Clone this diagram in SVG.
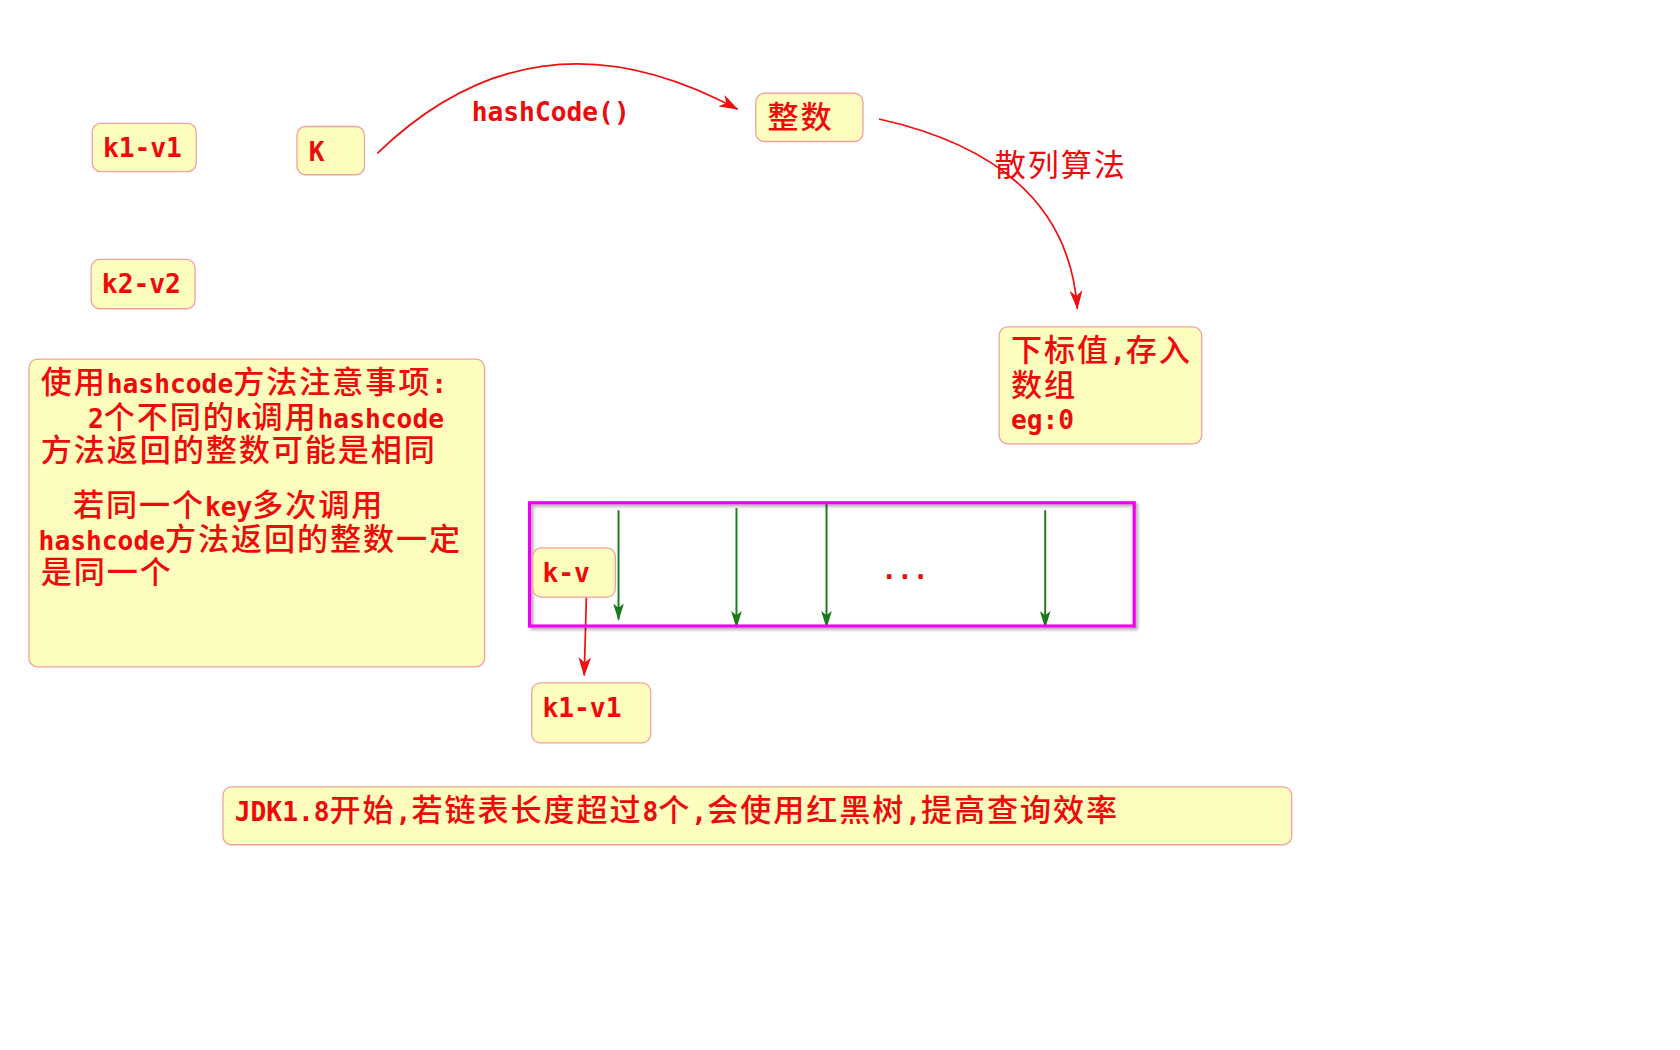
<svg xmlns="http://www.w3.org/2000/svg" width="1680" height="1050" viewBox="0 0 1680 1050">
<style>
.b{fill:#fdfdbd;stroke:#f3a0a0;stroke-width:1.2}
.t{fill:#ee0a0a;font-family:"DejaVu Sans Mono","Noto Sans CJK SC",monospace;font-weight:500;font-size:29px;letter-spacing:1.8px}
.l{font-size:24.5px;font-weight:bold;letter-spacing:0}
.r{fill:none;stroke:#ee1111;stroke-width:1.6}
.g{fill:none;stroke:#1a7a1a;stroke-width:1.8}
</style>
<defs>
<marker id="ar" markerWidth="18" markerHeight="12" refX="17" refY="6" orient="auto" markerUnits="userSpaceOnUse"><path d="M0,0 L18,6 L0,12 L5,6z" fill="#ee1111"/></marker>
<marker id="ag" markerWidth="16" markerHeight="10" refX="15" refY="5" orient="auto" markerUnits="userSpaceOnUse"><path d="M0,0 L16,5 L0,10 L4,5z" fill="#1a7a1a"/></marker>
<filter id="sh"><feDropShadow dx="2" dy="2" stdDeviation="1.5" flood-opacity="0.35"/></filter>
</defs>
<rect width="1680" height="1050" fill="#fff"/>
<g transform="scale(1.072)">
<g id="connectors">
<path class="r" d="M352,143 Q500,0 688,102" marker-end="url(#ar)"/>
<path class="r" d="M820,111 Q995,150 1005,288" marker-end="url(#ar)"/>
<path class="r" d="M547,557 L545,630" marker-end="url(#ar)"/>
<path class="g" d="M577,476 L577,578" marker-end="url(#ag)"/>
<path class="g" d="M687,474 L687,585" marker-end="url(#ag)"/>
<path class="g" d="M771,470 L771,585" marker-end="url(#ag)"/>
<path class="g" d="M975,476 L975,585" marker-end="url(#ag)"/>
<text class="t l" x="440" y="113">hashCode()</text>
<text class="t" x="928" y="164" style="font-weight:normal">散列算法</text>
</g>
<g id="n_k1v1"><rect class="b" x="86" y="115" width="97" height="45" rx="8"/><text class="t l" x="96" y="146">k1-v1</text></g>
<g id="n_k2v2"><rect class="b" x="85" y="242" width="97" height="46" rx="8"/><text class="t l" x="95" y="273">k2-v2</text></g>
<g id="n_K"><rect class="b" x="277" y="118" width="63" height="45" rx="8"/><text class="t l" x="288" y="150">K</text></g>
<g id="n_int"><rect class="b" x="705" y="87" width="100" height="45" rx="8"/><text class="t" x="716" y="119">整数</text></g>
<g id="n_idx"><rect class="b" x="932" y="305" width="189" height="109" rx="8"/><text class="t"><tspan x="943" y="337">下标值<tspan class="l">,</tspan>存入</tspan><tspan x="943" y="369">数组</tspan><tspan x="943" y="400" class="l">eg:0</tspan></text></g>
<g id="n_note"><rect class="b" x="27" y="335" width="425" height="287" rx="8"/><text class="t"><tspan x="38" y="367">使用<tspan class="l">hashcode</tspan>方法注意事项<tspan class="l">:</tspan></tspan><tspan x="82" y="399"><tspan class="l">2</tspan>个不同的<tspan class="l">k</tspan>调用<tspan class="l">hashcode</tspan></tspan><tspan x="38" y="430">方法返回的整数可能是相同</tspan><tspan x="68" y="481">若同一个<tspan class="l">key</tspan>多次调用</tspan><tspan x="36" y="513"><tspan class="l">hashcode</tspan>方法返回的整数一定</tspan><tspan x="38" y="544">是同一个</tspan></text></g>
<g id="n_array"><rect x="494" y="469" width="564" height="115" fill="none" stroke="#ee00ee" stroke-width="3" filter="url(#sh)"/><text class="t l" x="822" y="540">...</text></g>
<g id="n_kv"><rect class="b" x="497" y="511" width="77" height="46" rx="8"/><text class="t l" x="506" y="543">k-v</text></g>
<g id="n_k1v1b"><rect class="b" x="496" y="637" width="111" height="56" rx="8"/><text class="t l" x="506" y="669">k1-v1</text></g>
<g id="n_jdk"><rect class="b" x="208" y="734" width="997" height="54" rx="8"/><text class="t" x="219" y="766"><tspan class="l">JDK1.8</tspan>开始<tspan class="l">,</tspan>若链表长度超过<tspan class="l">8</tspan>个<tspan class="l">,</tspan>会使用红黑树<tspan class="l">,</tspan>提高查询效率</text></g>
</g>
</svg>
